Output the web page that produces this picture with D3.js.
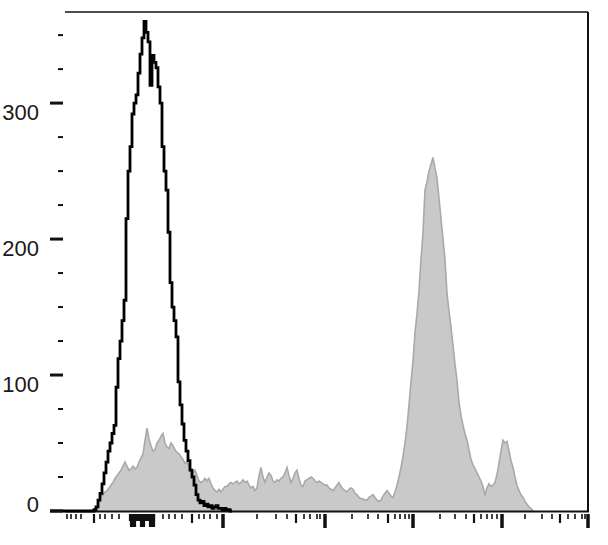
<!DOCTYPE html>
<html><head><meta charset="utf-8">
<script src="https://cdn.jsdelivr.net/npm/d3@7/dist/d3.min.js"></script>
<style>body{margin:0;background:#fff}svg{display:block}</style>
</head><body>
<svg id="c" width="608" height="545"></svg>
<script>
// Histogram counts per display channel (bin index = channel)
const blackCounts = [
0,0,0,0,0,0,0,0,0,0, 0,0,0,0,0,0,0,0,0,0, 0,0,1,3,8,13,20,28,36,44,
50,57,63,91,112,125,140,155,215,250, 268,292,300,306,322,336,348,360,352,345,
313,335,330,326,312,300,268,250,236,205, 168,150,140,128,95,78,64,52,44,37,
30,25,19,12,8,6,7,4,5,3, 4,2,3,4,2,2,1,2,1,1, 0];
const grayCounts = [
0,0,0,0,0,0,0,0,0,0, 0,0,0,0,0,0,0,0,0,0, 0,0,0,2,7,11,12,14,15,17,
19,21,24,26,28,30,33,36,33,30, 31,33,31,32,36,39,42,52,61,53,
48,44,45,50,52,55,57,50,47,46, 50,48,45,43,42,40,38,35,36,33,
30,28,30,26,22,21,22,24,22,24, 20,17,15,14,16,14,16,18,18,20,
21,20,21,22,20,21,23,21,22,19, 17,18,15,17,26,32,25,21,25,28,
26,22,21,23,22,24,25,28,32,26, 21,24,28,30,24,19,18,22,23,24,
25,24,22,21,22,21,20,19,19,17, 16,15,17,19,21,18,16,15,14,16,
17,16,13,12,10,9,9,8,8,10, 11,12,10,8,7,8,11,13,15,13,
11,10,14,19,25,32,40,50,62,78, 95,110,131,145,162,185,205,236,242,250,
255,260,252,245,230,215,200,185,160,147, 135,122,108,96,80,70,63,57,52,45,
38,34,31,28,25,22,18,12,17,20, 18,19,21,27,35,44,52,50,51,44,
37,32,25,19,15,12,10,7,5,3, 2,0];

const yTickValues = [0, 100, 200, 300];
const yTickLabels = ["0", "100", "200", "300"];
const yMinorValues = [25, 50, 75, 125, 150, 175, 225, 250, 275, 325, 350];

const xMajorChannels = [86.5, 137.5, 181.5, 226, 269];
const xMediumChannels = [22, 71, 123, 169, 212, 255];
const xMinorChannels = [8.5,10.5,13,15.5,25,27.5,31,34.5,56.5,59.5,62.5,66,74.5,77,80,83.5,
  103.5,113,118.5,127,130,133.5,135,151,159,164,172.5,175,177.5,179.5,
  195,202.5,208,215.5,218.5,221,223.5,237.5,246,251,259,262.5,266,267.5];
const xZeroClusterShort = [40,41,42,43,44,45,46,47,48,49,50,51,52];
const xZeroClusterLong = [40.5,41.5,42.5,45.5,46.5,47,50,51,52];

const svg = d3.select("#c");
const x = d3.scaleLinear().domain([0, 269]).range([50, 588]);
const y = d3.scaleLinear().domain([0, 367]).range([511, 12]);

const frameLeft = x(7.5), frameRight = x(269);

function stepPts(arr){
  const pts = arr.map((v,i)=>[i, v]);
  pts.push([arr.length, arr[arr.length-1]]);
  return pts;
}
const centerPts = arr => arr.map((v,i)=>[i+0.5, v]);

// gray filled histogram
const gPts = centerPts(grayCounts);
svg.append("path")
  .attr("d", d3.area().x(d=>x(d[0])).y0(y(0)).y1(d=>y(d[1])).curve(d3.curveLinear)(gPts))
  .attr("fill", "#c9c9c9");
svg.append("path")
  .attr("d", d3.line().x(d=>x(d[0])).y(d=>y(d[1])).curve(d3.curveLinear)(gPts))
  .attr("fill", "none").attr("stroke", "#a9a9a9").attr("stroke-width", 1.6);

// frame: top, right, bottom
const fr = svg.append("g").attr("stroke", "#111").attr("fill", "none");
fr.append("line").attr("x1", frameLeft).attr("x2", frameRight).attr("y1", y(367)).attr("y2", y(367)).attr("stroke-width", 1.6);
fr.append("line").attr("x1", frameRight).attr("x2", frameRight).attr("y1", y(367)).attr("y2", y(0)).attr("stroke-width", 2);
fr.append("line").attr("x1", frameLeft).attr("x2", frameRight+1).attr("y1", y(0)+0.5).attr("y2", y(0)+0.5).attr("stroke-width", 2);

// black outline histogram
const bPts = stepPts(blackCounts);
svg.append("path")
  .attr("d", d3.line().x(d=>x(d[0])).y(d=>y(d[1])).curve(d3.curveStepAfter)(bPts))
  .attr("fill", "none").attr("stroke", "#000").attr("stroke-width", 2.8)
  .attr("stroke-linejoin", "miter");

// y ticks
const yAx = svg.append("g").attr("stroke", "#111");
yMinorValues.forEach(v => yAx.append("line").attr("x1", 58).attr("x2", 63).attr("y1", y(v)).attr("y2", y(v)).attr("stroke-width", 2));
yTickValues.forEach(v => yAx.append("line").attr("x1", 50).attr("x2", 63).attr("y1", y(v)).attr("y2", y(v)).attr("stroke-width", 3));
yTickValues.forEach((v,i) => svg.append("text")
  .attr("x", 39).attr("y", Math.min(y(v)+17, y(0)+1))
  .attr("text-anchor", "end")
  .attr("font-family", "'Liberation Sans', Arial, sans-serif")
  .attr("font-size", 22).attr("fill", "#1a1a1a")
  .text(yTickLabels[i]));

// x ticks
const t0 = y(0) + 3;
const xAx = svg.append("g").attr("stroke", "#111");
xMinorChannels.forEach(c => xAx.append("line").attr("x1", x(c)).attr("x2", x(c)).attr("y1", t0).attr("y2", t0+5).attr("stroke-width", 1.6));
xZeroClusterShort.forEach(c => xAx.append("line").attr("x1", x(c)).attr("x2", x(c)).attr("y1", t0).attr("y2", t0+7).attr("stroke-width", 2.2));
xZeroClusterLong.forEach(c => xAx.append("line").attr("x1", x(c)).attr("x2", x(c)).attr("y1", t0).attr("y2", t0+13).attr("stroke-width", 2.2));
xMediumChannels.forEach(c => xAx.append("line").attr("x1", x(c)).attr("x2", x(c)).attr("y1", t0).attr("y2", t0+9).attr("stroke-width", 2.2));
xMajorChannels.forEach(c => xAx.append("line").attr("x1", x(c)).attr("x2", x(c)).attr("y1", t0).attr("y2", t0+14).attr("stroke-width", 3.5));
</script>
</body></html>
